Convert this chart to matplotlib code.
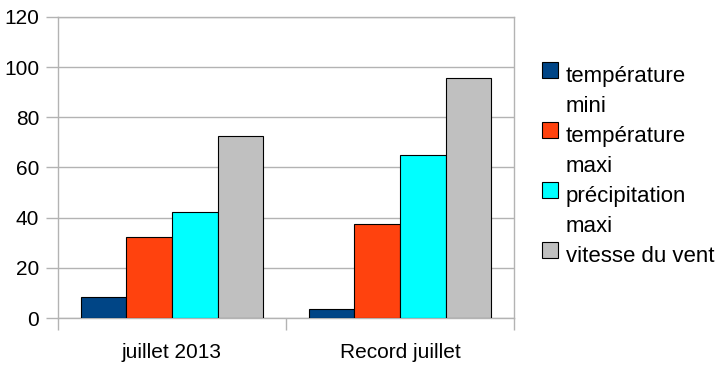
import numpy as np
import matplotlib.pyplot as plt
from matplotlib.patches import Rectangle

plt.rcParams['font.family'] = ['Liberation Sans', 'DejaVu Sans']

# values per category
categories = ["juillet 2013", "Record juillet"]
series_labels = ["température\nmini", "température\nmaxi", "précipitation\nmaxi", "vitesse du vent"]
temp_mini = [8.5, 3.6]
temp_maxi = [32.3, 37.3]
precip_maxi = [42.3, 64.8]
vent = [72.5, 95.5]
series = [temp_mini, temp_maxi, precip_maxi, vent]
colors = ["#004586", "#ff420e", "#00ffff", "#c0c0c0"]

W, H = 715, 365
fig = plt.figure(figsize=(W / 100, H / 100), dpi=100)
ax = fig.add_axes([58 / W, (H - 318) / H, 456 / W, 301 / H])

x = np.arange(len(categories))
bw = 0.2
for i, (vals, c) in enumerate(zip(series, colors)):
    ax.bar(x + (i - 1.5) * bw, vals, bw, color=c, edgecolor="black", linewidth=0.8, zorder=3)

grid_col = "#b3b3b3"
ax.set_xlim(-0.5, 1.5)
ax.set_ylim(0, 120)
ax.set_yticks(range(0, 121, 20))
ax.yaxis.grid(True, color=grid_col, linewidth=1)
for s in ax.spines.values():
    s.set_color(grid_col)
    s.set_linewidth(1)

# category boundaries get ticks, centers get labels
ax.set_xticks([-0.5, 0.5, 1.5])
ax.set_xticklabels([])
ax.set_xticks(x, minor=True)
ax.set_xticklabels(categories, minor=True)
ax.tick_params(axis="x", which="major", direction="out", length=8.6, color=grid_col, width=1)
ax.tick_params(axis="x", which="minor", length=0, pad=18, labelsize=15)
ax.tick_params(axis="y", direction="out", length=8.6, color=grid_col, width=1, pad=5, labelsize=15)

# legend on the right, one text per line
for i, (lab, c) in enumerate(zip(series_labels, colors)):
    top = 61.7 + i * 60
    fig.patches.append(Rectangle((541.7 / W, 1 - (top + 16) / H), 16 / W, 16 / H,
                                 transform=fig.transFigure, facecolor=c,
                                 edgecolor="black", linewidth=0.8))
    for j, line in enumerate(lab.split("\n")):
        fig.text(566 / W, 1 - (top + 20.5 + j * 30) / H, line, fontsize=16,
                 va="baseline", ha="left")

fig.savefig("out.png", dpi=100)
